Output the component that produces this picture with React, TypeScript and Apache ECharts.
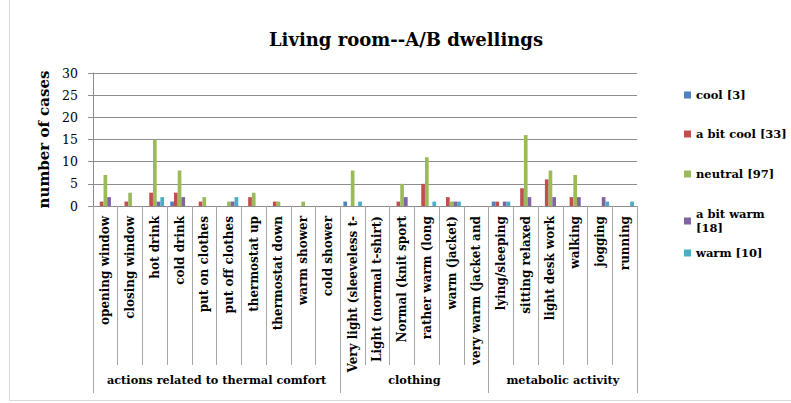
import React, { useEffect, useRef } from "react";
import * as echarts from "echarts";

const categories = [
  "opening window", "closing window", "hot drink", "cold drink", "put on clothes",
  "put off clothes", "thermostat up", "thermostat down", "warm shower", "cold shower",
  "Very light (sleeveless t-", "Light (normal t-shirt)", "Normal (knit sport",
  "rather warm (long", "warm (jacket)", "very warm (jacket and",
  "lying/sleeping", "sitting relaxed", "light desk work", "walking", "jogging", "running",
];
const groupNames = ["actions related to thermal comfort", "clothing", "metabolic activity"];
const groupSizes = [10, 6, 6];

const seriesNames = ["cool [3]", "a bit cool [33]", "neutral [97]", "a bit warm [18]", "warm [10]"];
const cool = [0, 0, 0, 1, 0, 0, 0, 0, 0, 0, 1, 0, 0, 0, 0, 0, 1, 0, 0, 0, 0, 0];
const aBitCool = [1, 1, 3, 3, 1, 0, 2, 1, 0, 0, 0, 0, 1, 5, 2, 0, 1, 4, 6, 2, 0, 0];
const neutral = [7, 3, 15, 8, 2, 1, 3, 1, 1, 0, 8, 0, 5, 11, 1, 0, 0, 16, 8, 7, 0, 0];
const aBitWarm = [2, 0, 1, 2, 0, 1, 0, 0, 0, 0, 0, 0, 2, 0, 1, 0, 1, 2, 2, 2, 2, 0];
const warm = [0, 0, 2, 0, 0, 2, 0, 0, 0, 0, 1, 0, 0, 1, 1, 0, 1, 0, 0, 0, 1, 1];
const seriesValues = [cool, aBitCool, neutral, aBitWarm, warm];
const colors = ["#4F81BD", "#C0504D", "#9BBB59", "#8064A2", "#4BACC6"];

const FONT = "'DejaVu Serif', serif";
const GRAY = "#8c8c8c";

export default function App() {
  const ref = useRef<HTMLDivElement>(null);
  useEffect(() => {
    if (!ref.current) return;
    const chart = echarts.init(ref.current, null, { renderer: "svg" });

    const bounds: number[] = [0];
    groupSizes.forEach((s) => bounds.push(bounds[bounds.length - 1] + s));
    const centers = groupSizes.map((s, i) => bounds[i] + s / 2);

    const legendTops = [88, 127, 167, 207, 246];

    const option: any = {
      animation: false,
      color: colors,
      title: {
        text: "Living room--A/B dwellings",
        left: 401,
        textAlign: "center",
        top: 25,
        textStyle: { fontFamily: FONT, fontWeight: "bold", fontSize: 18, color: "#000" },
      },
      grid: { left: 93, right: 154, top: 73, bottom: 197, containLabel: false, outerBoundsMode: "none" },
      legend: seriesNames.map((n, i) => ({
        data: [n],
        left: 684,
        top: legendTops[i],
        orient: "vertical",
        icon: "rect",
        itemWidth: 7,
        itemHeight: 7,
        padding: 0,
        textStyle: { fontFamily: FONT, fontWeight: "bold", fontSize: 11.5, color: "#000", lineHeight: 14 },
        formatter: (name: string) => (i === 3 ? name.replace(" [", "\n[") : name),
      })),
      xAxis: [
        {
          type: "category",
          data: categories,
          boundaryGap: true,
          axisLine: { show: true, lineStyle: { color: GRAY } },
          axisTick: { show: true, interval: 0, length: 159, lineStyle: { color: "#a6a6a6" } },
          axisLabel: {
            interval: 0,
            rotate: 90,
            margin: 10,
            fontFamily: FONT,
            fontWeight: "bold",
            fontSize: 12,
            color: "#000",
          },
          splitLine: { show: false },
        },
        {
          type: "value",
          min: 0,
          max: categories.length,
          position: "bottom",
          axisLine: { show: false },
          splitLine: { show: false },
          axisTick: { show: true, customValues: bounds, length: 187, lineStyle: { color: "#a6a6a6" } },
          axisLabel: {
            show: true,
            customValues: centers,
            formatter: (v: number) => {
              const k = centers.findIndex((c) => Math.abs(c - v) < 1e-6);
              return k >= 0 ? groupNames[k] : "";
            },
            margin: 168,
            fontFamily: FONT,
            fontWeight: "bold",
            fontSize: 11.3,
            color: "#000",
          },
        },
      ],
      yAxis: {
        type: "value",
        min: 0,
        max: 30,
        interval: 5,
        name: "number of cases",
        nameLocation: "middle",
        nameGap: 41,
        nameTextStyle: { fontFamily: FONT, fontWeight: "bold", fontSize: 15, color: "#000" },
        axisLine: { show: true, lineStyle: { color: GRAY } },
        axisTick: { show: true, length: 5, lineStyle: { color: GRAY } },
        axisLabel: { fontFamily: FONT, fontSize: 12.5, color: "#000", margin: 15 },
        splitLine: { show: true, lineStyle: { color: GRAY, width: 1 } },
      },
      series: seriesNames.map((n, i) => ({
        name: n,
        type: "bar",
        xAxisIndex: 0,
        yAxisIndex: 0,
        data: seriesValues[i],
        barGap: "0%",
        barCategoryGap: "25%",
        itemStyle: { color: colors[i] },
      })),
      graphic: [
        {
          type: "rect",
          shape: { x: 9.5, y: -5, width: 800, height: 405.5 },
          style: { fill: "none", stroke: "#d9d9d9", lineWidth: 1 },
          silent: true,
          z: -1,
        },
      ],
    };
    chart.setOption(option);
    return () => chart.dispose();
  }, []);
  return (
    <div
      ref={ref}
      style={{ position: "fixed", left: 0, top: 0, width: 791, height: 403, background: "#fff" }}
    />
  );
}
